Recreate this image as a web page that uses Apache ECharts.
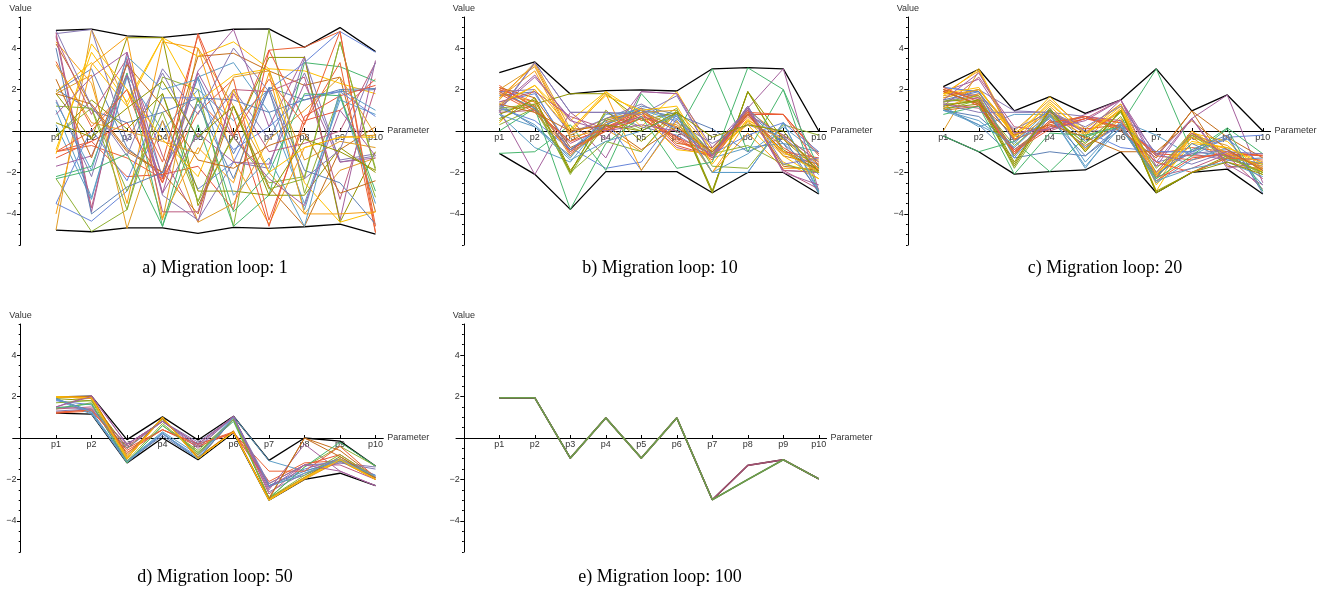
<!DOCTYPE html>
<html>
<head>
<meta charset="utf-8">
<script src="https://cdn.jsdelivr.net/npm/echarts@6/dist/echarts.min.js"></script>
<style>
  html, body { margin: 0; padding: 0; background: #fff; }
  #chart { width: 1319px; height: 592px; }
</style>
</head>
<body>
<div id="chart"></div>
<script>
// Parameter names along the horizontal axis
const params = ['p1', 'p2', 'p3', 'p4', 'p5', 'p6', 'p7', 'p8', 'p9', 'p10'];
const yTickLabels = [-4, -2, 2, 4];
const yMajorTicks = [-4, -2, 0, 2, 4];

// Migration loop 1
const loop1Upper = [4.85, 4.91, 4.59, 4.52, 4.69, 4.91, 4.93, 4.04, 4.99, 3.83];
const loop1Lower = [-4.78, -4.86, -4.67, -4.67, -4.94, -4.65, -4.70, -4.62, -4.49, -4.98];
const loop1Lines = [
  [1.9, 3.0, -0.8, -2.2, 2.6, -1.1, 2.1, 1.5, 1.9, 2.0],
  [-4.78, 4.9, 1.3, -4.3, 4.0, 1.2, -2.0, -4.0, -1.9, -1.3],
  [-2.3, -4.85, -3.8, 2.6, 2.0, -4.6, 4.9, -3.0, 1.8, -3.2],
  [3.35, 0.2, 2.0, -2.5, 1.5, -0.3, 3.9, 4.05, 4.8, -4.9],
  [4.7, 4.9, -0.5, 2.8, -0.4, 2.0, -0.4, 2.8, -1.4, -1.1],
  [4.2, 1.2, -1.0, -2.0, 3.6, 3.75, 2.9, 2.2, 2.6, -3.9],
  [1.0, -3.2, 2.6, -2.2, 2.6, 3.3, 0.9, -3.5, 1.5, 0.8],
  [-0.9, 3.8, 1.4, 4.5, 3.6, 4.3, 3.0, 2.9, 2.3, 1.8],
  [4.6, -3.9, 3.8, -2.3, 2.9, 4.9, 0.2, 3.6, -4.3, 3.4],
  [1.8, -0.4, 4.5, 4.5, -3.6, -0.2, 3.55, 3.55, -4.4, -1.0],
  [-1.3, -0.5, -2.2, -2.1, -1.7, -3.8, 3.9, 0.5, 1.0, 2.5],
  [-3.5, -4.35, -2.9, 0.5, -2.8, -1.5, 2.0, 3.3, 4.8, 3.8],
  [4.3, 2.3, -3.5, 4.3, 4.0, -1.4, -4.5, -0.8, -0.3, -0.2],
  [4.75, -3.7, 3.4, -1.2, -4.4, 2.0, 1.9, 2.6, -3.3, 2.1],
  [-2.2, -1.7, 2.8, -4.6, 0.3, -4.6, -3.1, 3.3, 3.1, 2.4],
  [2.0, 1.0, 0.4, 0.9, 1.6, 1.5, 0.9, 1.5, 2.0, 2.05],
  [1.8, 2.7, -4.7, 0.5, -4.4, -3.5, -0.4, 1.0, 2.6, -0.2],
  [-0.2, 1.1, -3.8, 1.8, -3.4, -0.3, -2.5, -2.2, 4.3, -1.9],
  [-1.0, -0.7, -1.3, -2.3, 0.9, 2.5, -4.3, 0.4, 3.3, -4.9],
  [1.5, -2.2, 3.3, -3.1, -4.3, -1.5, -1.8, 3.5, -1.5, -1.2],
  [1.8, 1.3, -0.9, -2.0, -4.0, 1.2, -2.7, -4.6, -0.9, 0.2],
  [0.3, -3.3, 2.7, 0.0, 2.0, 0.5, 2.0, -3.8, 1.7, -3.5],
  [1.9, 3.3, 1.2, 4.5, 1.4, 2.7, 3.0, -2.5, -4.4, -3.9],
  [-1.7, -1.2, 2.7, -3.0, -0.1, -1.5, -1.6, 2.3, -1.5, -1.3],
  [-0.3, 1.5, 0.1, 1.8, -2.9, -2.9, -3.1, -3.1, -0.8, -2.0],
  [-1.0, -0.5, 0.4, -2.5, 4.7, 0.7, -4.6, 0.7, 1.7, 2.2],
  [-3.5, 0.1, -2.4, 1.6, 1.6, -0.9, 0.2, 1.7, 1.9, 0.7],
  [-4.0, 3.2, 4.55, -4.2, -0.8, -2.5, 2.8, -4.0, -4.0, -3.9],
  [4.5, 0.8, 3.5, -3.9, -3.9, 1.8, -1.0, -0.6, 0.0, 3.3],
  [-2.3, -1.9, -1.1, -4.6, 1.6, -3.9, -2.0, 1.8, 1.7, -2.9],
  [4.0, -4.0, -2.7, -2.0, 1.3, -2.3, 2.1, -1.9, -2.5, -4.5],
  [3.2, 0.4, 0.0, -0.5, -1.1, 2.6, 2.9, -1.4, -0.5, -0.8],
  [1.2, 1.1, -2.9, 0.9, -3.4, 1.2, -2.8, -2.3, 4.3, -1.8],
  [-1.0, 0.0, 2.0, -1.5, 4.6, -0.2, 2.5, 0.3, 4.8, -4.6],
  [4.85, 1.2, -1.2, 3.0, 0.8, 4.0, 1.9, -2.3, -0.9, 3.3],
  [2.5, -1.3, 3.2, 1.2, -1.4, -1.8, -0.7, -0.1, -3.0, -2.4],
  [1.4, -1.9, 3.6, 2.0, 2.5, -3.1, -1.3, -4.6, 2.0, 1.0],
  [-1.1, 4.2, 2.0, -0.4, -2.2, 2.0, -2.0, -0.8, -0.3, -0.3],
  [0.8, 2.6, 3.8, -3.0, 2.8, -0.3, -2.3, -3.6, 1.0, -1.2],
  [0.4, -0.3, 1.1, 2.4, -0.3, 1.2, -3.1, -0.4, -1.0, -1.9]
];

// Migration loop 10
const loop10Upper = [2.82, 3.33, 1.79, 1.95, 1.98, 1.93, 3.0, 3.06, 3.0, 0.0];
const loop10Lower = [-1.08, -2.09, -3.78, -1.96, -1.96, -1.96, -2.98, -2.0, -2.0, -3.04];
const loop10Lines = [
  [1.7, 1.9, -1.0, 0.4, 1.0, 0.7, -1.1, 0.9, -0.6, -2.9],
  [1.5, 3.3, 0.1, 0.2, 0.6, 0.3, -1.0, 1.0, -0.3, -1.8],
  [1.0, 1.2, -2.0, 0.9, 0.1, 1.1, -2.9, 1.9, -1.0, -2.0],
  [2.2, 1.1, -0.9, 0.1, 0.8, -0.3, -1.4, 0.8, 0.8, -1.2],
  [1.0, 3.3, 0.9, 0.9, 0.2, -0.2, -1.2, 1.2, -1.9, -2.0],
  [2.0, 1.0, -0.5, 0.5, 1.0, -0.6, -0.8, 0.9, -1.2, -1.6],
  [0.8, -0.8, -1.5, 0.6, 1.1, 0.6, -1.3, -0.8, -0.6, -1.0],
  [1.2, 2.2, 0.5, 1.9, 0.2, 1.9, -1.0, 0.3, -1.5, -2.3],
  [1.1, 2.6, 0.6, -1.3, 1.9, 1.8, -0.8, 1.1, 3.0, -2.9],
  [0.6, 1.3, 1.8, 1.8, 0.5, 0.9, -3.0, 1.9, -0.9, -1.9],
  [2.0, 1.4, -1.1, 0.2, 0.9, -0.7, -1.2, 0.8, -1.0, -1.3],
  [1.4, 1.8, -0.8, -1.8, -1.5, 0.8, -2.0, -2.0, 0.4, -3.0],
  [1.6, 2.9, -0.3, 0.1, -1.0, 0.9, -2.0, 0.5, -0.2, -1.5],
  [0.9, 1.0, -0.6, 0.2, 0.7, -0.8, -1.2, 1.2, -1.9, -2.0],
  [-1.08, -1.0, 0.3, -1.9, 1.8, -0.1, 3.0, -1.0, 2.0, -3.0],
  [1.3, 0.2, -1.2, 0.3, 1.2, 0.8, 0.1, -1.0, -0.3, -3.0],
  [2.0, 3.1, -0.2, 0.6, 0.9, 1.0, -0.9, 0.9, -1.1, -1.4],
  [0.3, 1.1, -2.0, -0.5, -1.0, 1.0, -1.7, -1.8, 0.3, -0.2],
  [1.8, 0.9, -1.0, 0.0, 0.6, -0.4, -1.3, 0.7, -0.8, -1.8],
  [1.9, 2.0, -0.1, 0.6, 1.3, 0.4, -0.6, 0.3, -0.3, -1.7],
  [2.1, 1.6, -0.8, 0.0, 0.9, 0.0, -1.0, 1.0, -1.7, -1.9],
  [1.2, 0.3, -1.3, 0.8, 1.0, 0.5, -2.0, -1.1, 0.2, -1.1],
  [0.4, 2.0, 0.0, 1.9, 0.8, -0.9, -1.1, 0.5, -1.2, -2.3],
  [1.0, -2.1, 0.9, -0.4, 1.9, 1.8, -1.2, 0.8, -0.2, -1.5],
  [0.8, 1.5, -2.0, 1.0, -0.5, 0.9, -2.9, 1.9, -0.4, -1.9],
  [2.1, 1.2, -0.9, 0.0, 0.6, -0.3, -1.1, 0.8, 0.8, -1.1],
  [1.1, 0.5, -0.9, 0.5, -1.9, 0.6, -1.1, -0.2, 0.4, -1.0],
  [1.6, 3.2, -0.1, 1.8, -1.9, 0.5, -2.0, -0.1, -1.8, -1.8],
  [1.4, 1.9, 0.7, 0.1, 0.7, 0.2, -1.3, 1.0, -1.9, -2.8],
  [0.0, 1.1, -3.78, -0.6, 0.7, -1.8, -1.5, 3.05, 2.0, -1.8],
  [1.9, 1.1, -0.9, 0.3, 1.0, 0.1, -1.1, 1.1, -0.6, -2.1],
  [1.8, 1.4, -1.2, 0.4, 0.9, 0.2, -1.1, 0.4, -0.4, -1.6],
  [1.1, 1.3, -2.1, 0.6, 0.0, 0.8, -1.1, -0.7, -1.6, -2.0],
  [1.9, 1.0, -0.5, 0.1, 1.1, -0.5, -1.2, 0.9, 0.8, -1.7],
  [0.9, 3.3, 0.9, 0.9, 0.8, 1.7, -1.2, 1.2, -1.6, -1.3],
  [1.3, 0.9, 0.0, 0.3, -0.9, 0.2, -1.0, 0.8, -1.0, -1.9],
  [0.8, 0.2, -1.4, -0.5, 0.0, 0.8, -2.0, -2.0, 0.4, -2.9],
  [1.3, 2.2, 0.1, 1.7, 1.0, 1.2, -1.6, 0.6, -1.0, -2.0],
  [1.2, 2.7, 0.5, 0.0, 0.3, 0.0, -1.2, 1.1, -2.0, -2.6],
  [0.5, 1.6, -1.9, 0.3, 0.0, 0.9, -0.3, 0.3, 0.0, -2.0]
];

// Migration loop 20
const loop20Upper = [2.14, 2.98, 0.97, 1.66, 0.85, 1.5, 3.0, 0.97, 1.74, 0.0];
const loop20Lower = [-0.24, -1.0, -2.08, -1.96, -1.88, -1.0, -2.98, -2.0, -1.84, -3.04];
const loop20Lines = [
  [1.1, 0.3, -1.3, -1.0, -1.2, 0.3, -2.1, -1.0, -1.2, -1.6],
  [1.7, 2.0, -0.1, 1.0, -0.1, 0.9, -2.3, -0.2, -0.7, -2.0],
  [1.0, 1.5, -1.8, 0.8, -0.8, 0.7, -2.3, -0.1, -1.2, -2.1],
  [2.0, 1.6, -1.0, 0.3, 0.7, 0.4, -1.1, -0.8, -1.0, -1.2],
  [1.4, 2.0, 0.97, 0.9, 0.7, 0.2, -1.7, -1.1, -1.4, -1.7],
  [1.0, 1.2, -1.0, 0.5, -0.7, 0.3, -1.2, 0.97, -1.7, -1.8],
  [1.2, 0.2, 0.8, 0.8, -1.8, 0.5, -0.2, -1.2, -0.3, -2.9],
  [1.6, 2.0, -0.2, 1.66, -0.1, 1.3, -2.6, -0.6, -0.8, -1.5],
  [1.9, 2.5, -0.1, 0.1, 0.8, 1.5, -1.7, 0.6, 1.74, -2.5],
  [1.1, 1.3, -1.7, 1.0, -0.9, 1.0, -2.98, -2.0, -1.2, -2.0],
  [2.0, 1.2, -1.1, 0.5, 0.1, 0.3, -1.1, -1.2, -1.2, -1.1],
  [2.1, 1.9, -1.2, 0.8, 0.0, -0.8, -1.0, -1.0, -0.3, -0.2],
  [1.8, 2.9, -0.5, 1.2, -0.4, 1.1, -2.1, -0.3, -0.9, -1.9],
  [1.2, 2.6, 0.2, 0.0, 0.6, 1.5, -2.2, -1.8, -1.1, -2.3],
  [-0.24, -1.0, -0.5, -1.96, -0.3, 0.3, 3.0, -1.0, 0.15, -1.1],
  [1.0, 0.7, -0.8, 1.0, -0.5, 0.2, -2.2, -0.6, -1.4, -1.3],
  [0.0, 2.9, -0.4, 0.7, -0.2, 1.0, -2.5, -0.3, -1.5, -1.9],
  [1.3, 1.4, -0.7, 0.7, -0.6, 0.9, -2.0, 0.0, -1.3, -1.6],
  [1.9, 1.7, -0.4, 0.2, 0.6, 0.4, -1.2, -1.4, -1.0, -1.8],
  [1.4, 1.8, 0.1, 0.9, 0.0, 0.0, -1.5, -1.1, -0.9, -1.9],
  [2.0, 1.5, -0.9, 0.4, 0.7, 0.0, -1.3, 0.97, -0.3, -1.3],
  [1.0, 0.3, -0.6, 1.1, -1.5, 0.4, -2.5, -1.4, -0.8, -2.6],
  [1.7, 3.0, -0.3, 1.4, -0.2, 1.2, -2.9, -0.1, -0.5, -2.0],
  [1.4, 1.6, -1.2, 0.9, -0.1, 1.5, -1.2, 0.6, -1.8, -1.5],
  [1.5, 1.4, -1.6, 1.1, -1.0, 1.0, -2.98, -2.0, -1.3, -2.0],
  [1.9, 1.3, -1.0, 0.1, 0.6, 0.2, -2.4, -1.3, -1.1, -1.2],
  [2.1, 1.9, -1.3, 0.7, -0.8, 0.3, -1.0, -1.0, -0.4, -1.6],
  [1.1, 1.8, -0.2, 0.9, -0.9, 0.6, -2.2, 0.0, -1.1, -1.7],
  [1.3, 1.1, -0.9, 0.2, 0.7, 0.5, -2.0, -0.1, -1.2, -2.8],
  [0.8, 1.2, -2.08, -0.1, -0.2, 0.2, -2.3, -1.2, 0.1, -2.9],
  [1.5, 1.9, -0.5, 0.6, -1.2, 0.1, -2.1, -0.9, -0.2, -3.0],
  [1.6, 2.0, 0.0, 1.5, 0.1, 1.3, -2.1, -0.2, -1.1, -1.8],
  [1.4, 1.7, -1.2, 0.8, -0.6, 0.9, -1.8, -0.2, -1.3, -2.0],
  [2.1, 1.4, -1.1, 0.4, 0.7, 0.1, -1.5, -2.0, -1.3, -1.4],
  [1.3, 0.9, 0.9, 0.9, 0.2, 1.2, -1.1, -1.6, -1.0, -1.1],
  [1.9, 1.3, -0.2, 0.3, -0.3, -1.0, -1.0, 0.5, -0.9, -1.9],
  [1.0, 0.5, -0.8, 0.8, -1.7, 0.2, -2.4, -1.8, -1.5, -2.2],
  [1.8, 2.1, -0.3, 1.3, -0.1, 1.0, -2.1, -0.5, -0.8, -1.6],
  [1.5, 2.8, -0.1, 0.1, 0.5, 1.5, -1.5, 0.6, -1.6, -2.6],
  [1.2, 1.5, -1.5, 1.0, -1.0, 1.0, -2.9, -2.0, -1.5, -2.1]
];

// Migration loop 50
const loop50Upper = [1.98, 2.02, -0.08, 1.02, -0.1, 1.05, -1.08, 0.0, -0.15, -1.35];
const loop50Lower = [1.2, 1.15, -1.2, 0.0, -1.05, 0.25, -3.0, -2.0, -1.7, -2.3];
const loop50Lines = [
  [1.9, 1.2, -1.2, 0.2, -1.0, 0.9, -2.3, -1.8, -1.0, -1.9],
  [2.0, 2.0, -1.0, 1.0, -1.0, 0.3, -3.0, -2.0, -1.1, -2.0],
  [1.4, 1.7, -1.2, 0.6, -0.6, 0.9, -2.9, -1.4, -0.4, -1.35],
  [1.2, 1.3, -0.5, 0.4, -0.3, 0.3, -2.1, -1.2, -1.1, -1.9],
  [1.5, 1.4, -0.3, 0.8, -0.2, 1.0, -2.6, -1.7, -1.2, -1.4],
  [2.0, 1.9, -1.0, 1.0, -1.0, 0.9, -2.9, 0.0, -0.6, -1.9],
  [1.85, 1.15, -1.1, 0.3, -0.8, 1.05, -1.1, -1.6, -1.1, -1.8],
  [1.95, 2.0, -0.9, 1.0, -0.9, 0.3, -3.0, -1.9, -1.0, -2.0],
  [1.5, 2.05, -0.3, 0.8, -0.5, 1.05, -2.5, -0.3, -1.6, -2.3],
  [1.9, 1.8, -0.5, 0.9, -0.8, 0.9, -2.9, -1.9, -0.9, -1.9],
  [1.2, 1.4, -0.6, 0.4, -0.4, 0.25, -2.2, -1.3, -0.8, -1.9],
  [1.8, 1.6, -1.1, 0.2, -0.9, 1.0, -2.3, -1.5, -1.0, -1.8],
  [2.0, 1.9, -1.0, 0.95, -0.95, 0.3, -2.95, -1.95, -1.1, -2.0],
  [1.4, 1.5, -0.4, 0.8, -0.3, 1.0, -2.7, -1.3, -1.3, -2.0],
  [1.45, 1.65, -1.2, 0.6, -0.7, 0.8, -2.9, -1.4, -0.2, -1.35],
  [1.9, 1.3, -1.1, 0.1, -1.0, 0.9, -2.3, -1.6, -1.1, -1.9],
  [2.0, 1.9, -0.9, 1.0, -1.0, 0.3, -2.95, -1.9, -1.0, -2.0],
  [1.7, 1.8, -1.1, 0.7, -0.7, 0.9, -2.9, -1.8, -0.8, -1.9],
  [1.25, 1.35, -0.7, 0.4, -0.3, 0.25, -1.6, -1.6, -0.4, -1.9],
  [1.3, 1.4, -0.5, 0.8, -0.4, 1.0, -2.2, -1.3, -1.2, -1.5],
  [2.0, 2.0, -0.8, 0.95, -0.95, 0.35, -2.95, 0.0, -0.9, -1.95],
  [1.9, 1.25, -1.15, 0.25, -1.0, 1.0, -2.35, -1.7, -1.05, -1.85],
  [2.0, 1.95, -1.0, 1.0, -1.0, 0.3, -3.0, -1.95, -1.05, -2.0],
  [1.5, 2.0, -0.3, 0.8, -0.3, 1.05, -2.4, -1.3, -1.6, -2.3]
];

// Migration loop 100
const loop100Upper = [1.94, 1.94, -0.97, 0.97, -0.97, 0.97, -2.98, -1.32, -1.05, -1.97];
const loop100Lower = [1.94, 1.94, -0.97, 0.97, -0.97, 0.97, -2.98, -2.0, -1.05, -1.97];
const loop100Lines = [
  [1.94, 1.94, -0.97, 0.97, -0.97, 0.97, -2.98, -1.32, -1.05, -1.97],
  [1.94, 1.94, -0.97, 0.97, -0.97, 0.97, -2.98, -2.0, -1.05, -1.97]
];
const loop100Colors = ['#a3506f', '#6c9e4a'];

const captions = [
  'a) Migration loop: 1',
  'b) Migration loop: 10',
  'c) Migration loop: 20',
  'd) Migration loop: 50',
  'e) Migration loop: 100'
];

// Default line colours cycled over the runs
const palette = ['#5e81b5', '#e19c24', '#8fb032', '#eb6235', '#8778b3', '#c56e1a',
  '#5d9ec7', '#ffbf00', '#a5609d', '#929600', '#e95536', '#6685d9', '#f89f13',
  '#bc5b80', '#47b66d'];

// Panel layout: grid placement in pixels
const panels = [
  { left: 12.7, top: 17, lines: loop1Lines, upper: loop1Upper, lower: loop1Lower, cx: 215, cy: 268 },
  { left: 456.0, top: 17, lines: loop10Lines, upper: loop10Upper, lower: loop10Lower, cx: 660, cy: 268 },
  { left: 900.0, top: 17, lines: loop20Lines, upper: loop20Upper, lower: loop20Lower, cx: 1105, cy: 268 },
  { left: 12.7, top: 324, lines: loop50Lines, upper: loop50Upper, lower: loop50Lower, cx: 215, cy: 577 },
  { left: 456.0, top: 324, lines: loop100Lines, upper: loop100Upper, lower: loop100Lower, cx: 660, cy: 577, colors: loop100Colors, width: 1.6 }
];

const X_MIN = -0.22, X_MAX = 10.22, Y_MIN = -5.5, Y_MAX = 5.5;
const GRID_W = 370.6, GRID_H = 228;
// shift the axes from the grid edges onto the origin
const X_AXIS_OFFSET = -GRID_H * (0 - Y_MIN) / (Y_MAX - Y_MIN);
const Y_AXIS_OFFSET = -GRID_W * (0 - X_MIN) / (X_MAX - X_MIN);
const axisFont = { fontFamily: 'Liberation Sans', fontSize: 9, color: '#333' };
const toPoints = vals => vals.map((v, i) => [i + 1, v]);
const fmtNum = v => (v < 0 ? '\u2212' + (-v) : String(v));

const grid = [], xAxis = [], yAxis = [], series = [], graphic = [];

panels.forEach((p, gi) => {
  grid.push({ left: p.left, top: p.top, width: GRID_W, height: GRID_H,
    containLabel: false, outerBoundsMode: 'none' });

  xAxis.push({
    gridIndex: gi, type: 'value', min: X_MIN, max: X_MAX, position: 'bottom', offset: X_AXIS_OFFSET,
    axisLine: { onZero: false, lineStyle: { color: '#000', width: 1 } },
    axisTick: { show: true, inside: true, length: 3, customValues: params.map((_, i) => i + 1),
      lineStyle: { color: '#000', width: 1 } },
    axisLabel: { customValues: params.map((_, i) => i + 1), formatter: v => params[v - 1],
      margin: 2, ...axisFont },
    splitLine: { show: false },
    name: 'Parameter', nameLocation: 'end', nameGap: 4, nameTextStyle: { ...axisFont }
  });

  // major ticks and labels
  yAxis.push({
    gridIndex: gi, type: 'value', min: Y_MIN, max: Y_MAX, position: 'left', offset: Y_AXIS_OFFSET,
    axisLine: { show: true, onZero: false, lineStyle: { color: '#000', width: 1 } },
    axisTick: { show: true, length: 3.5, customValues: yMajorTicks, lineStyle: { color: '#000', width: 1 } },
    axisLabel: { customValues: yTickLabels, formatter: fmtNum, margin: 4, ...axisFont },
    splitLine: { show: false },
    name: 'Value', nameLocation: 'end', nameGap: 4, nameTextStyle: { ...axisFont }
  });
  // minor ticks every 0.5
  yAxis.push({
    gridIndex: gi, type: 'value', min: Y_MIN, max: Y_MAX, interval: 0.5, position: 'left', offset: Y_AXIS_OFFSET,
    axisLine: { show: false, onZero: false },
    axisTick: { show: true, length: 1.8, lineStyle: { color: '#000', width: 1 } },
    axisLabel: { show: false },
    splitLine: { show: false }
  });

  const yIdx = gi * 2;
  // envelope of the population
  [p.upper, p.lower].forEach(env => {
    series.push({
      type: 'line', xAxisIndex: gi, yAxisIndex: yIdx, data: toPoints(env),
      showSymbol: false, symbol: 'none', silent: true,
      lineStyle: { color: '#000', width: 1.3 }
    });
  });
  p.lines.forEach((vals, li) => {
    series.push({
      type: 'line', xAxisIndex: gi, yAxisIndex: yIdx, data: toPoints(vals),
      showSymbol: false, symbol: 'none', silent: true,
      lineStyle: { color: p.colors ? p.colors[li] : palette[li % palette.length], width: p.width || 1 }
    });
  });

  graphic.push({
    type: 'text', x: p.cx, y: p.cy,
    style: { text: captions[gi], fontFamily: 'Liberation Serif', fontSize: 18, fill: '#000',
      align: 'center', verticalAlign: 'middle' }
  });
});

const chart = echarts.init(document.getElementById('chart'), null, { renderer: 'canvas' });
chart.setOption({
  animation: false,
  backgroundColor: '#fff',
  grid, xAxis, yAxis, series, graphic
});
</script>
</body>
</html>
